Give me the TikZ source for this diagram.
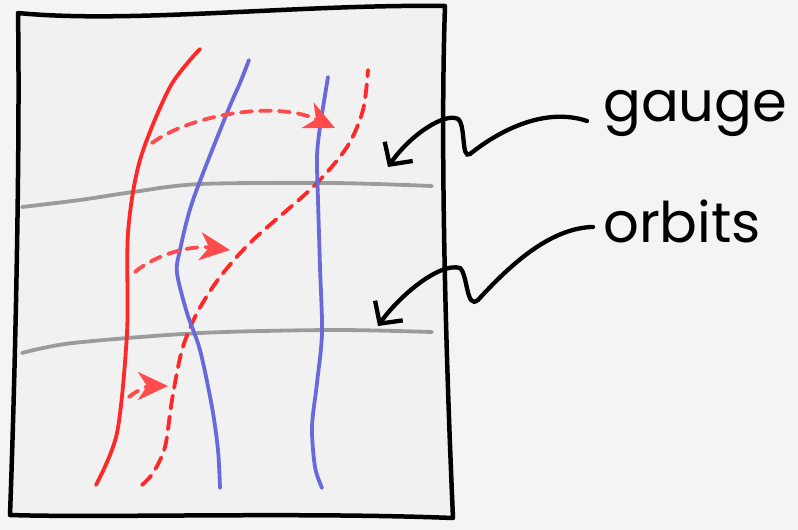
\documentclass[tikz,border=0pt]{standalone}
\usepackage{fontspec}
\setmainfont{Poppins}
\usepackage{xcolor}
\usepackage{tikz}
\usetikzlibrary{arrows.meta,positioning}
\definecolor{paper}{RGB}{244,244,244}
\definecolor{sheet}{RGB}{241,241,241}
\definecolor{orbitgray}{RGB}{155,155,155}
\definecolor{fieldred}{RGB}{255,40,40}
\definecolor{hopred}{RGB}{255,75,75}
\definecolor{fieldblue}{RGB}{105,105,220}

\begin{document}
\begin{tikzpicture}[
  x=1pt, y=-1pt,
  sheetframe/.style={line width=4.5pt, line join=round, fill=sheet},
  orbitline/.style={line width=3.8pt, orbitgray, line cap=round},
  redline/.style={line width=3.8pt, fieldred, line cap=round},
  redgauge/.style={redline, dash pattern=on 13pt off 8pt},
  blueline/.style={line width=3.8pt, fieldblue, line cap=round},
  hop/.style={line width=3.8pt, hopred, line cap=round, dash pattern=on 11pt off 8pt,
    -{Stealth[length=30pt,width=28pt,inset=9pt]}},
  pointer/.style={line width=4.3pt, line cap=round,
    -{Straight Barb[length=16pt,width=34pt]}},
  lbl/.style={font=\fontsize{56}{56}\selectfont, inner sep=0pt, anchor=base west}
]
\useasboundingbox[fill=paper] (0,0) rectangle (798,530);
\draw[sheetframe] (18,13) .. controls (130,24) and (300,4) .. (445,6)
  .. controls (440,150) and (446,360) .. (453,518)
  .. controls (300,512) and (100,518) .. (10,515)
  .. controls (16,350) and (20,140) .. (18,13) -- cycle;
\draw[orbitline] plot[smooth] coordinates {(22,207) (80,200) (133,192) (200,184) (333,183) (432,186)};
\draw[orbitline] plot[smooth] coordinates {(22,353) (73,343) (200,333) (333,330) (432,332)};
\draw[redline] plot[smooth] coordinates {(96,485) (117,433) (127,333) (128,233) (140,160) (170,87) (200,49)};
\draw[redgauge] plot[smooth] coordinates {(142,485) (153,473) (165,447) (172,400) (182,350) (197,313) (220,277) (253,240) (313,187) (347,147) (363,110) (368,70)};
\draw[blueline] plot[smooth] coordinates {(220,488) (218,450) (212,407) (200,350) (187,313) (177,273) (180,250) (193,200) (227,113) (240,83) (249,60)};
\draw[blueline] plot[smooth] coordinates {(322,488) (315,467) (312,427) (317,383) (322,333) (320,267) (318,200) (317,157) (320,127) (328,77)};
\coordinate (hopA) at (152,143);
\coordinate (hopAend) at (335,128);
\coordinate (hopB) at (135,272);
\coordinate (hopBend) at (230,250);
\coordinate (hopC) at (129,397);
\coordinate (hopCend) at (168,386);
\draw[hop] (hopA) .. controls (190,115) and (275,100) .. (hopAend);
\draw[hop] (hopB) .. controls (155,255) and (190,245) .. (hopBend);
\draw[hop] (hopC) .. controls (140,388) and (150,386) .. (hopCend);
\node[lbl] (gauge) at (603,121) {gauge};
\node[lbl] (orbits) at (603,242) {orbits};
\coordinate (gaugetip) at (388,167);
\coordinate (orbitstip) at (378,326);
\draw[pointer] ([xshift=-16pt,yshift=-8pt]gauge.west) .. controls (545,107) and (500,130) .. (470,154)
  .. controls (461,160) and (466,125) .. (458,119) .. controls (445,112) and (410,135) .. (gaugetip);
\draw[pointer] ([xshift=-10pt,yshift=-6pt]orbits.west) .. controls (550,228) and (510,265) .. (478,300)
  .. controls (466,310) and (468,275) .. (460,268) .. controls (440,262) and (400,295) .. (orbitstip);
\end{tikzpicture}
\end{document}
